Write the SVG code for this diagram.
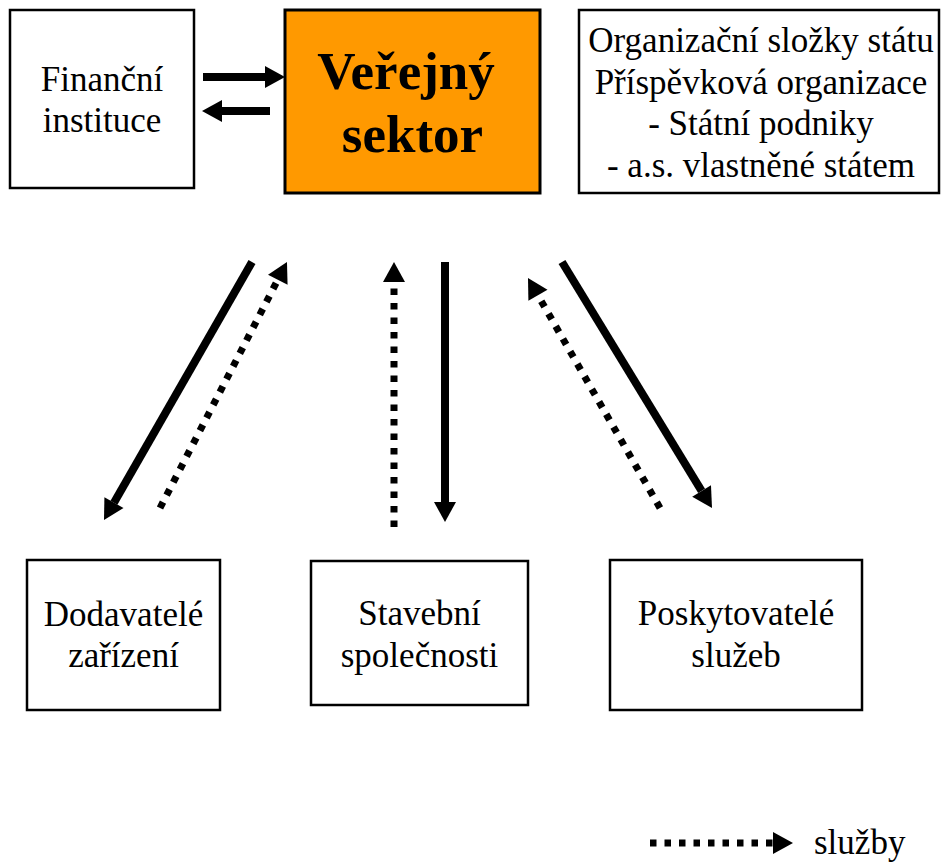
<svg xmlns="http://www.w3.org/2000/svg" width="941" height="862" viewBox="0 0 941 862">
<style>
.box{fill:#fff;stroke:#000;stroke-width:2.5}
text{font-family:'Liberation Serif','DejaVu Serif',serif;font-size:35px;fill:#000;text-anchor:middle}
.b{font-weight:bold;font-size:53px}
.solid{fill:none;stroke:#000;stroke-width:8}
.dot{fill:none;stroke:#000;stroke-width:7;stroke-dasharray:6.5 8}
</style>
<defs>
<marker id="ah" markerUnits="userSpaceOnUse" markerWidth="22" markerHeight="22" refX="0" refY="11" orient="auto" overflow="visible">
<path d="M0,0 L20,11 L0,22 Z" fill="#000"/>
</marker>
</defs>
<rect width="941" height="862" fill="#fff"/>
<g id="financni">
<rect class="box" x="10" y="10" width="184" height="178"/>
<text x="102" y="91">Finanční</text>
<text x="102" y="132">instituce</text>
</g>
<g id="verejny">
<rect x="285" y="10" width="255" height="183" fill="#FF9900" stroke="#000" stroke-width="3"/>
<text class="b" x="406" y="89">Veřejný</text>
<text class="b" x="412.5" y="152">sektor</text>
</g>
<g id="organizace">
<rect class="box" x="579" y="10" width="360" height="183"/>
<text x="761" y="52">Organizační složky státu</text>
<text x="761" y="93.7">Příspěvková organizace</text>
<text x="761" y="135.4">- Státní podniky</text>
<text x="761" y="177">- a.s. vlastněné státem</text>
</g>
<g id="dodavatele">
<rect class="box" x="27" y="560" width="193" height="150"/>
<text x="123.5" y="626">Dodavatelé</text>
<text x="123.5" y="667">zařízení</text>
</g>
<g id="stavebni">
<rect class="box" x="311" y="561" width="217" height="144"/>
<text x="419.5" y="625">Stavební</text>
<text x="419.5" y="667">společnosti</text>
</g>
<g id="poskytovatele">
<rect class="box" x="610" y="560" width="252" height="150"/>
<text x="736" y="625">Poskytovatelé</text>
<text x="736" y="667">služeb</text>
</g>
<g id="connectors">
<line class="solid" x1="203" y1="77" x2="265" y2="77" marker-end="url(#ah)"/>
<line class="solid" x1="270" y1="111" x2="222" y2="111" marker-end="url(#ah)"/>
<line class="solid" x1="252" y1="262" x2="113.95" y2="502.65" marker-end="url(#ah)"/>
<line class="dot" x1="160" y1="508" x2="277.8" y2="279.8" marker-end="url(#ah)"/>
<line class="dot" x1="394" y1="527" x2="394" y2="282" marker-end="url(#ah)"/>
<line class="solid" x1="445" y1="262" x2="445" y2="502" marker-end="url(#ah)"/>
<line class="solid" x1="562" y1="262" x2="701.6" y2="490.9" marker-end="url(#ah)"/>
<line class="dot" x1="660" y1="508" x2="537.95" y2="295.35" marker-end="url(#ah)"/>
</g>
<g id="legend">
<line class="dot" x1="650" y1="843" x2="773" y2="843" marker-end="url(#ah)"/>
<text x="814" y="854" style="text-anchor:start">služby</text>
</g>
</svg>
